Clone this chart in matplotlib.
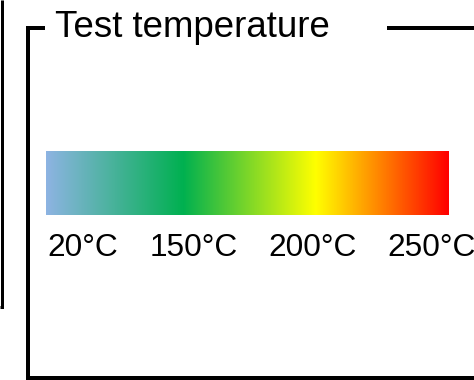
import matplotlib
matplotlib.use("Agg")
import matplotlib.pyplot as plt
import numpy as np
from matplotlib.colors import LinearSegmentedColormap

plt.rcParams['font.family'] = ['Liberation Sans', 'DejaVu Sans']

title = "Test temperature"
tick_labels = ["20°C", "150°C", "200°C", "250°C"]
grad_stops = [0.0, 0.34, 0.67, 1.0]
grad_colors = ["#8DB4E2", "#00B050", "#FFFF00", "#FF0000"]

W, H = 474, 380
fig = plt.figure(figsize=(W / 100, H / 100), dpi=100)
ax = fig.add_axes([0, 0, 1, 1])
ax.set_xlim(0, W)
ax.set_ylim(H, 0)
ax.axis('off')

px = 72 / 100  # points per pixel
lw_main = 4 * px
lw_outer = 3 * px

# outer left bracket
ax.plot([2.5, 2.5, 0], [0, 306.5, 306.5], color='black', lw=lw_outer,
        solid_joinstyle='miter', solid_capstyle='butt')
# main frame
ax.plot([45, 28, 28, W + 5], [27.5, 27.5, 378, 378], color='black', lw=lw_main,
        solid_joinstyle='miter', solid_capstyle='butt')
ax.plot([387, W + 5], [27.5, 27.5], color='black', lw=lw_main, solid_capstyle='butt')

ax.text(55, 37, title, fontsize=26.4, ha='left', va='baseline', color='black')

cmap = LinearSegmentedColormap.from_list('temp', list(zip(grad_stops, grad_colors)))
grad = np.linspace(0, 1, 512).reshape(1, -1)
ax.imshow(grad, cmap=cmap, aspect='auto', extent=[46, 449, 215, 151], interpolation='bilinear')

label_x = [47, 150, 268, 387]
for x, lab in zip(label_x, tick_labels):
    ax.text(x, 256, lab, fontsize=22.8, ha='left', va='baseline', color='black')

ax.set_xlim(0, W)
ax.set_ylim(H, 0)
fig.savefig("out.png", dpi=100)
